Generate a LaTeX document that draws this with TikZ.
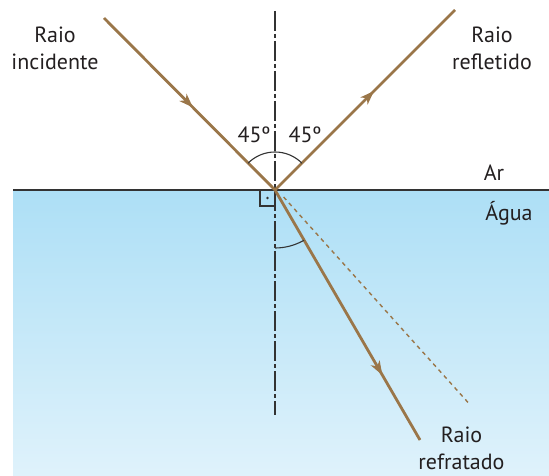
\documentclass[tikz,border=0pt]{standalone}
\usepackage{fontspec}
\setmainfont{PT Sans}
\usetikzlibrary{arrows.meta,decorations.markings}
\definecolor{raybrown}{HTML}{9A7649}
\definecolor{linegray}{HTML}{333333}
\definecolor{textgray}{HTML}{231F20}
\definecolor{watertop}{HTML}{ADDFF6}
\definecolor{waterbot}{HTML}{DFF2FB}
\tikzset{
  ray/.style={draw=raybrown, line width=2.8pt},
  midarrow/.style={postaction={decorate}, decoration={markings,
    mark=at position #1 with {\arrow[raybrown]{Stealth[length=14pt,width=10pt,inset=4pt]}}}},
  txt/.style={font=\fontsize{22}{27}\selectfont, text=textgray, align=center},
}
\begin{document}
\begin{tikzpicture}[x=1pt,y=-1pt]
\useasboundingbox (0,0) rectangle (549,476);
% water
\shade[top color=watertop, bottom color=waterbot] (13,190) rectangle (549,476);
% points
\coordinate (O) at (275,190);
\coordinate (incstart) at (104,18);
\coordinate (reflend) at (455,10);
\coordinate (refrend) at (420,440);
\coordinate (dashstart) at (283.6,197);
\coordinate (dashend) at (468.5,403);
\coordinate (normtop) at (275,11);
\coordinate (normbot) at (275,415);
\coordinate (surfleft) at (13,190);
\coordinate (surfright) at (549,190);
% surface and normal
\draw[linegray, line width=2pt] (surfleft) -- (surfright);
\draw[linegray, line width=1.5pt, dash pattern=on 20pt off 3pt on 4pt off 3pt] (normtop) -- (normbot);
% extension of incident ray
\draw[raybrown, line width=1.4pt, dash pattern=on 4pt off 4pt] (dashstart) -- (dashend);
% rays
\draw[ray, midarrow=0.52] (incstart) -- (O);
\draw[ray, midarrow=0.55] (O) -- (reflend);
\draw[ray, midarrow=0.74] (O) -- (refrend);
% angles
\draw[linegray, line width=1.1pt] (O) ++(-135:38) arc (-135:-45:38);
\draw[linegray, line width=1.1pt] (O) ++(90:58) arc (90:60:58);
\draw[linegray, line width=1.1pt] (260,190) -- (260,206) -- (275,206);
\fill[linegray] (267.5,198) circle (1.4pt);
% labels
\node[txt] (incid) at (55,48) {Raio\\incidente};
\node[txt] (refl) at (492,48) {Raio\\refletido};
\node[txt] (refr) at (461.5,448) {Raio\\refratado};
\node[txt] (ar) at (494,173) {Ar};
\node[txt] (agua) at (509,213) {Água};
\node[txt] (angl) at (254,135) {45º};
\node[txt] (angr) at (305,135) {45º};
\end{tikzpicture}
\end{document}
